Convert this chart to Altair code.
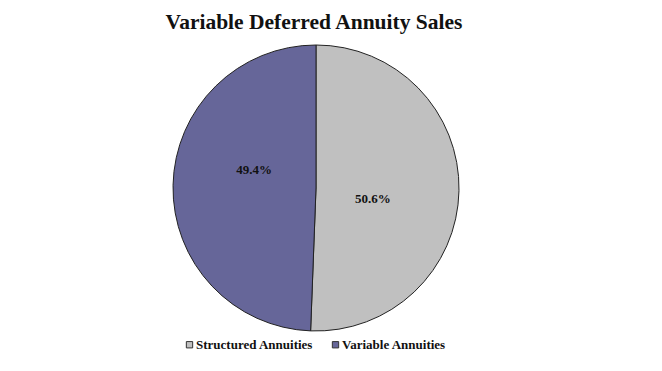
import altair as alt
import pandas as pd

title_text = "Variable Deferred Annuity Sales"
categories = ["Structured Annuities", "Variable Annuities"]
shares = [50.6, 49.4]
labels = ["50.6%", "49.4%"]
colors = ["#C0C0C0", "#666699"]

df = pd.DataFrame({
    "category": categories,
    "share": shares,
    "label": labels,
    "order": list(range(len(categories))),
})

CX, CY, R = 308, 180, 143
theta_scale = alt.Scale(domain=[0, 100])

pie = alt.Chart(df).mark_arc(stroke="#222222", strokeWidth=1, radius=R).encode(
    theta=alt.Theta("share:Q", stack=True, scale=theta_scale),
    order=alt.Order("order:Q"),
    x=alt.value(CX),
    y=alt.value(CY),
    color=alt.Color(
        "category:N",
        scale=alt.Scale(domain=categories, range=colors),
        legend=alt.Legend(
            title=None,
            orient="none",
            direction="horizontal",
            legendX=175,
            legendY=330,
            symbolType="square",
            symbolSize=40,
            symbolStrokeColor="#333333",
            symbolStrokeWidth=1,
            labelFont="Liberation Serif",
            labelFontWeight="bold",
            labelFontSize=13,
            labelColor="#111111",
            columnPadding=15,
            symbolOffset=0,
            labelOffset=0,
        ),
    ),
)

lab_base = alt.Chart(df).transform_window(
    cum="sum(share)", sort=[alt.SortField("order")]
).transform_calculate(mid="datum.cum - datum.share / 2")

text_s = lab_base.transform_filter(alt.datum.category == categories[0]).mark_text(
    radius=57, font="Liberation Serif", fontWeight="bold", fontSize=13, color="#111111", dy=10
).encode(
    theta=alt.Theta("mid:Q", stack=None, scale=theta_scale),
    x=alt.value(CX), y=alt.value(CY), text="label:N",
)

text_v = lab_base.transform_filter(alt.datum.category == categories[1]).mark_text(
    radius=62, font="Liberation Serif", fontWeight="bold", fontSize=13, color="#111111", dy=-17
).encode(
    theta=alt.Theta("mid:Q", stack=None, scale=theta_scale),
    x=alt.value(CX), y=alt.value(CY), text="label:N",
)

title = alt.Chart(pd.DataFrame({"t": [title_text]})).mark_text(
    font="Liberation Serif", fontWeight="bold", fontSize=21.5, color="#111111", baseline="middle"
).encode(x=alt.value(CX - 2), y=alt.value(15), text="t:N")

chart = alt.layer(pie, text_s, text_v, title).properties(
    width=640, height=350, autosize=alt.AutoSizeParams(type="none"), padding=0
).configure_view(stroke="transparent", strokeWidth=0)

chart.save("out.html", embed_options={"renderer": "svg", "actions": False})
